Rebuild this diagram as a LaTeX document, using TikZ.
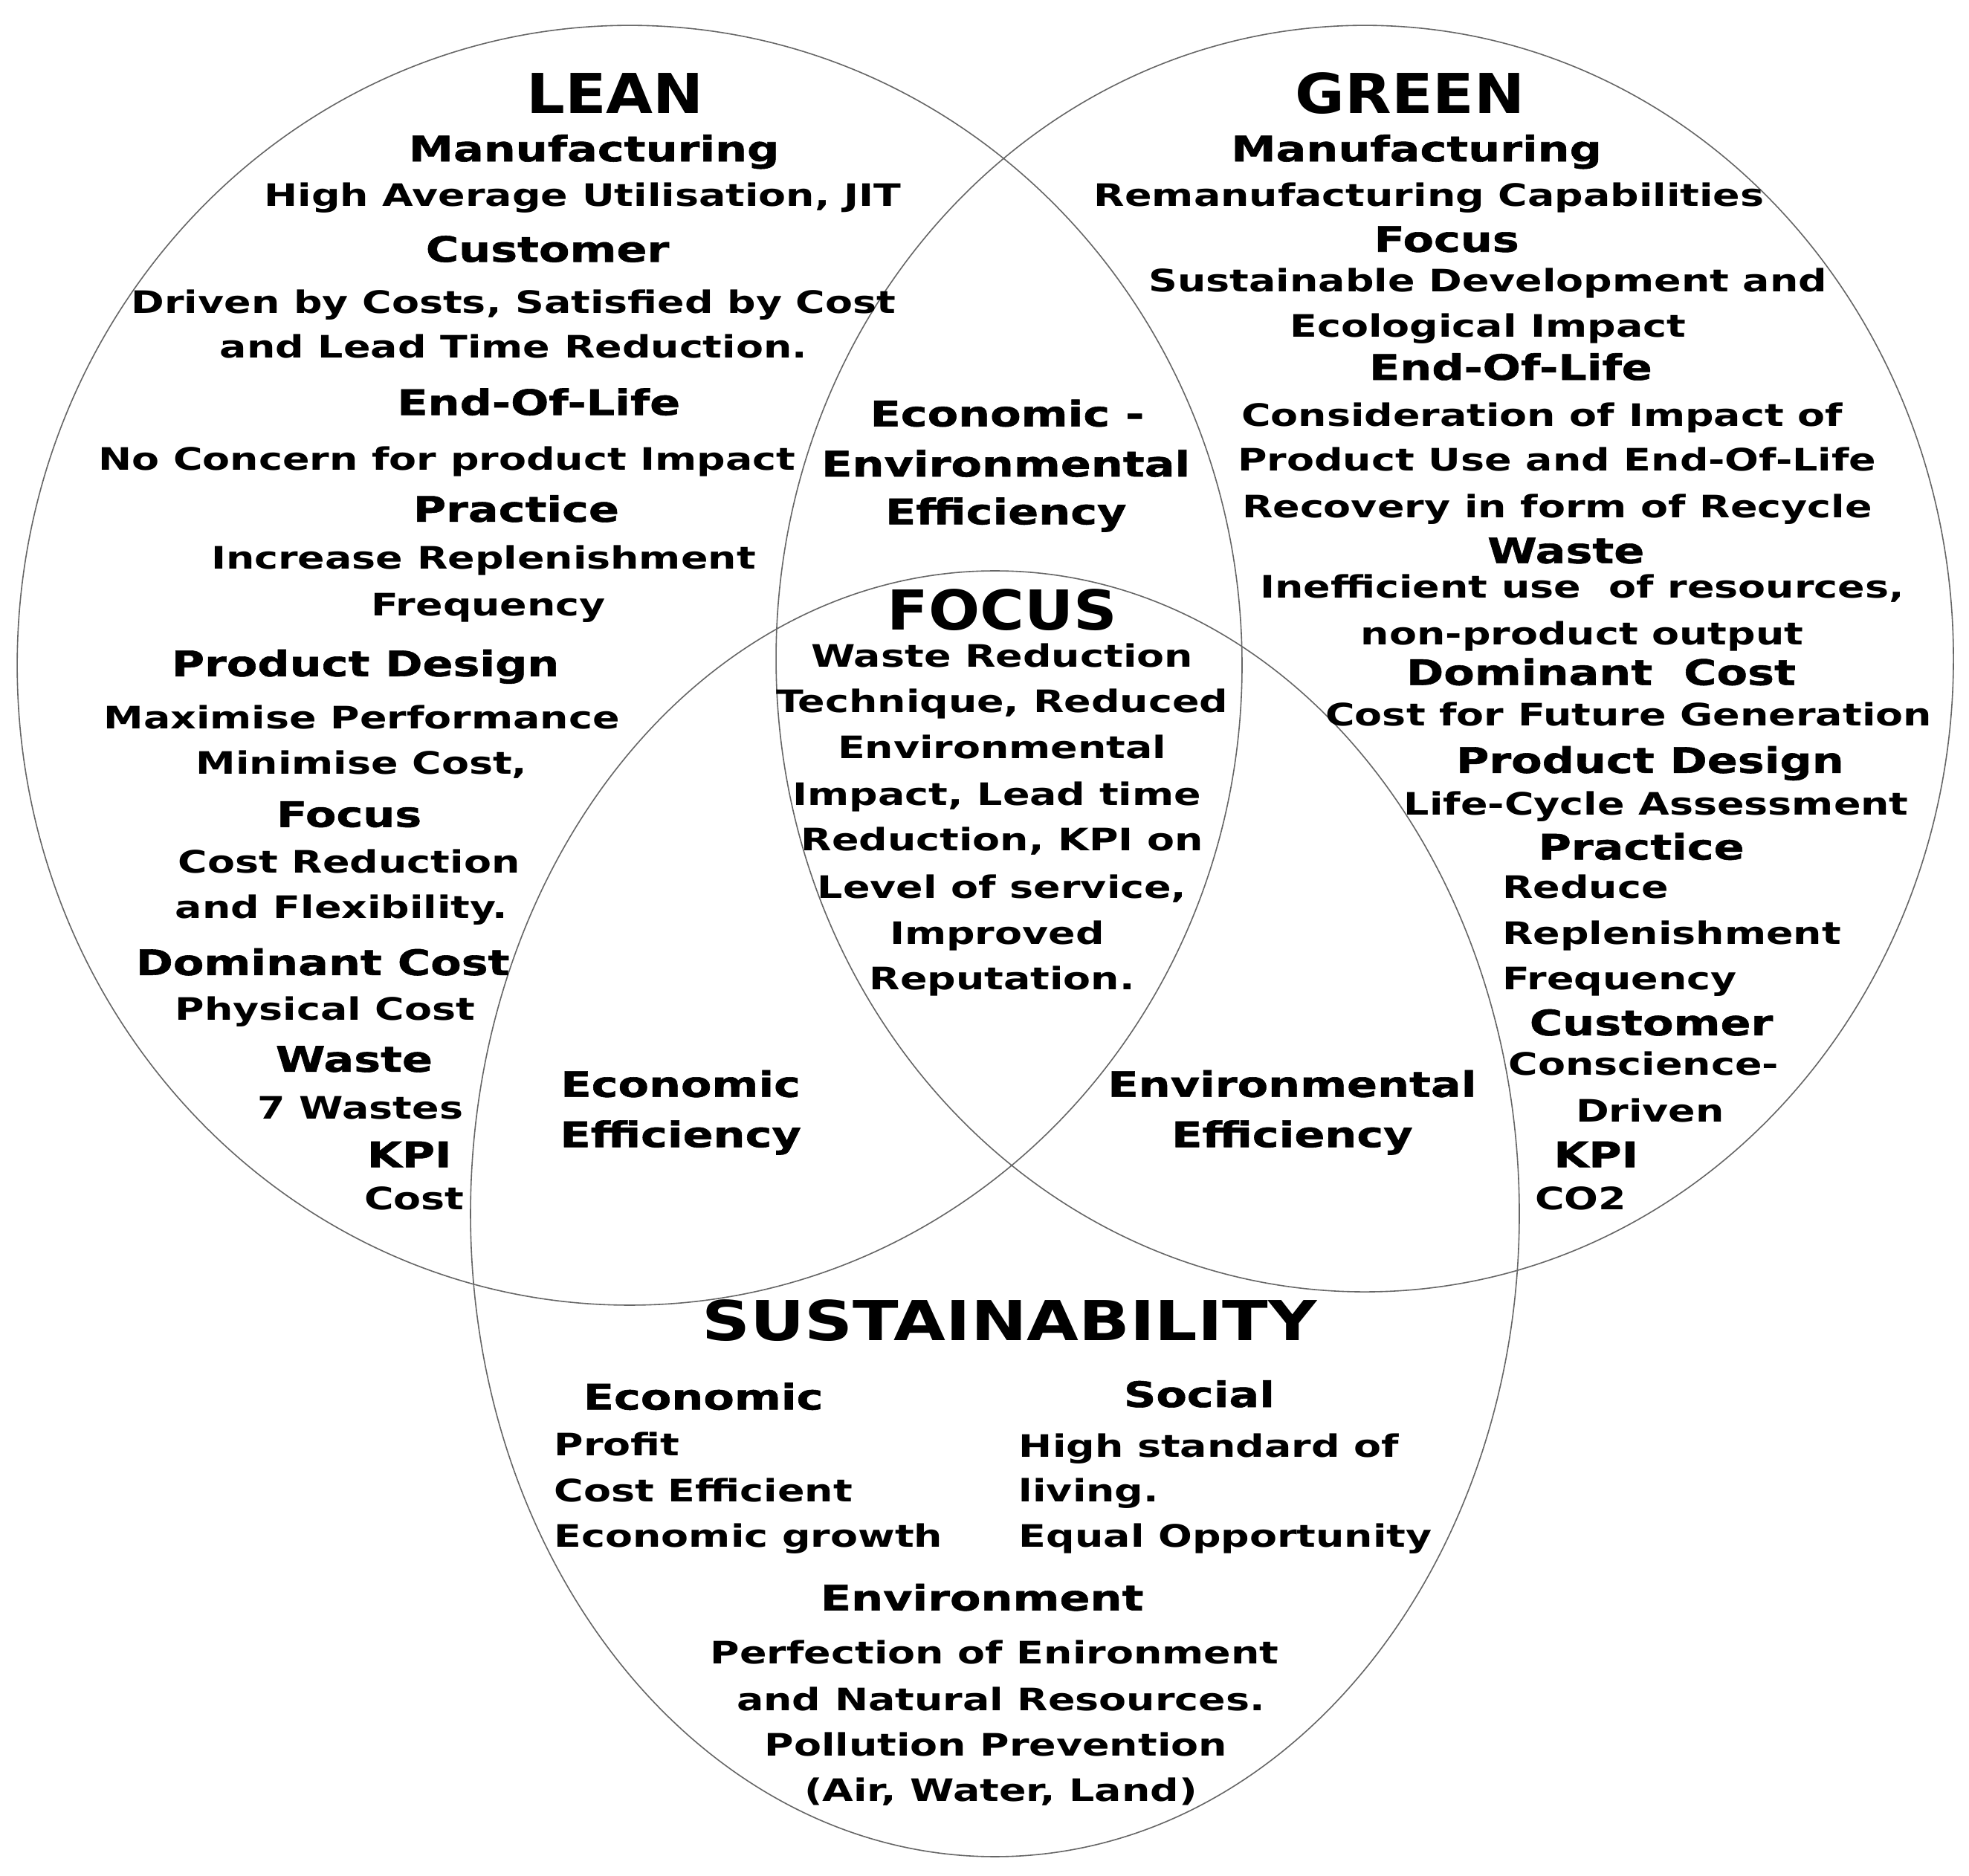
\documentclass[tikz,border=0pt]{standalone}
\usepackage{fontspec}
\setmainfont{DejaVu Sans}
\newfontfamily\bodyfont{DejaVu Sans}[FakeStretch=1.295]
\newfontfamily\headfont{DejaVu Sans}[FakeStretch=1.28,BoldFeatures={FakeBold=1.2}]
\newfontfamily\titlefont{DejaVu Sans}[FakeStretch=1.1]
\newfontfamily\titlewide{DejaVu Sans}[FakeStretch=1.22]
\tikzset{
  venn/.style={draw=black!60,line width=0.4pt},
  tt/.style={font=\titlefont\bfseries\fontsize{18.5}{20}\selectfont,inner sep=0pt,anchor=mid,yshift=-3.8pt},
  ttw/.style={tt,font=\titlewide\bfseries\fontsize{18.5}{20}\selectfont},
  hh/.style={font=\headfont\bfseries\fontsize{11.8}{13}\selectfont,inner sep=0pt,anchor=mid,yshift=-1.7pt},
  bb/.style={font=\bodyfont\bfseries\fontsize{10.4}{12}\selectfont,inner sep=0pt,anchor=mid,yshift=-1.6pt},
  bl/.style={bb,anchor=mid west},
}
\begin{document}
\begin{tikzpicture}[x=0.42235pt,y=-0.42235pt]
\useasboundingbox (0,0) rectangle (1568,1494);
\fill[white] (0,0) rectangle (1568,1494);
% ellipses
\draw[venn] (501.4,529.8) ellipse [x radius=487.7,y radius=509.6];
\draw[venn] (1086.8,524.5) ellipse [x radius=468.8,y radius=504.3];
\draw[venn] (792.3,966.6) ellipse [x radius=417.6,y radius=512.0];
% LEAN
\node[tt] (lean) at (490,75) {LEAN};
\node[hh] (lmfg) at (473,118) {Manufacturing};
\node[bb] (lmfg1) at (464,154) {High Average Utilisation, JIT};
\node[hh] (lcus) at (436,198) {Customer};
\node[bb] (lcus1) at (409,239) {Driven by Costs, Satisfied by Cost};
\node[bb] (lcus2) at (409,275) {and Lead Time Reduction.};
\node[hh] (leol) at (429,320) {End-Of-Life};
\node[bb] (leol1) at (356,364) {No Concern for product Impact};
\node[hh] (lpra) at (411,405) {Practice};
\node[bb] (lpra1) at (385,443) {Increase Replenishment};
\node[bb] (lpra2) at (389,480) {Frequency};
\node[hh] (lpd) at (291,528) {Product Design};
\node[bb] (lpd1) at (288,570) {Maximise Performance};
\node[bb] (lpd2) at (288,606) {Minimise Cost,};
\node[hh] (lfoc) at (278,648) {Focus};
\node[bb] (lfoc1) at (278,685) {Cost Reduction};
\node[bb] (lfoc2) at (272,721) {and Flexibility.};
\node[hh] (ldc) at (257,766) {Dominant Cost};
\node[bb] (ldc1) at (259,802) {Physical Cost};
\node[hh] (lwas) at (282,843) {Waste};
\node[bb] (lwas1) at (287,881) {7 Wastes};
\node[hh] (lkpi) at (326,919) {KPI};
\node[bb] (lkpi1) at (330,953) {Cost};
% Lean-Green overlap
\node[hh] (ee1) at (802,329) {Economic -};
\node[hh] (ee2) at (801,369) {Environmental};
\node[hh] (ee3) at (801,407) {Efficiency};
% FOCUS
\node[tt] (focus) at (798,486) {FOCUS};
\node[bb] (f1) at (798,521) {Waste Reduction};
\node[bb] (f2) at (798,557) {Technique, Reduced};
\node[bb] (f3) at (798,594) {Environmental};
\node[bb] (f4) at (794,631) {Impact, Lead time};
\node[bb] (f5) at (798,667) {Reduction, KPI on};
\node[bb] (f6) at (798,705) {Level of service,};
\node[bb] (f7) at (794,742) {Improved};
\node[bb] (f8) at (798,778) {Reputation.};
% other overlaps
\node[hh] (ec1) at (542,863) {Economic};
\node[hh] (ec2) at (542,903) {Efficiency};
\node[hh] (en1) at (1029,863) {Environmental};
\node[hh] (en2) at (1029,903) {Efficiency};
% GREEN
\node[tt] (green) at (1123,75) {GREEN};
\node[hh] (gmfg) at (1128,118) {Manufacturing};
\node[bb] (gmfg1) at (1138,154) {Remanufacturing Capabilities};
\node[hh] (gfoc) at (1152,190) {Focus};
\node[bb] (gfoc1) at (1185,222) {Sustainable Development and};
\node[bb] (gfoc2) at (1185,258) {Ecological Impact};
\node[hh] (geol) at (1203,292) {End-Of-Life};
\node[bb] (geol1) at (1228,329) {Consideration of Impact of};
\node[bb] (geol2) at (1240,365) {Product Use and End-Of-Life};
\node[bb] (geol3) at (1240,402) {Recovery in form of Recycle};
\node[hh] (gwas) at (1247,438) {Waste};
\node[bb] (gwas1) at (1260,466) {Inefficient use\ \ of resources,};
\node[bb] (gwas2) at (1260,503) {non-product output};
\node[hh] (gdc) at (1275,535) {Dominant\ \ Cost};
\node[bb] (gdc1) at (1297,568) {Cost for Future Generation};
\node[hh] (gpd) at (1314,605) {Product Design};
\node[bb] (gpd1) at (1319,639) {Life-Cycle Assessment};
\node[hh] (gpra) at (1307,674) {Practice};
\node[bl] (gpra1) at (1196,705) {Reduce};
\node[bl] (gpra2) at (1196,742) {Replenishment};
\node[bl] (gpra3) at (1196,778) {Frequency};
\node[hh] (gcus) at (1315,814) {Customer};
\node[bb] (gcus1) at (1309,846) {Conscience-};
\node[bb] (gcus2) at (1314,883) {Driven};
\node[hh] (gkpi) at (1271,919) {KPI};
\node[bl] (gkpi1) at (1222,953) {CO2};
% SUSTAINABILITY
\node[ttw] (sus) at (804,1052) {SUSTAINABILITY};
\node[hh] (seco) at (560,1112) {Economic};
\node[bl] (seco1) at (441,1149) {Profit};
\node[bl] (seco2) at (441,1186) {Cost Efficient};
\node[bl] (seco3) at (441,1222) {Economic growth};
\node[hh] (ssoc) at (955,1110) {Social};
\node[bl] (ssoc1) at (811,1150) {High standard of};
\node[bl] (ssoc2) at (811,1186) {living.};
\node[bl] (ssoc3) at (811,1222) {Equal Opportunity};
\node[hh] (senv) at (782,1272) {Environment};
\node[bb] (senv1) at (792,1315) {Perfection of Enironment};
\node[bb] (senv2) at (797,1352) {and Natural Resources.};
\node[bb] (senv3) at (793,1388) {Pollution Prevention};
\node[bb] (senv4) at (797,1424) {(Air, Water, Land)};
\end{tikzpicture}
\end{document}
